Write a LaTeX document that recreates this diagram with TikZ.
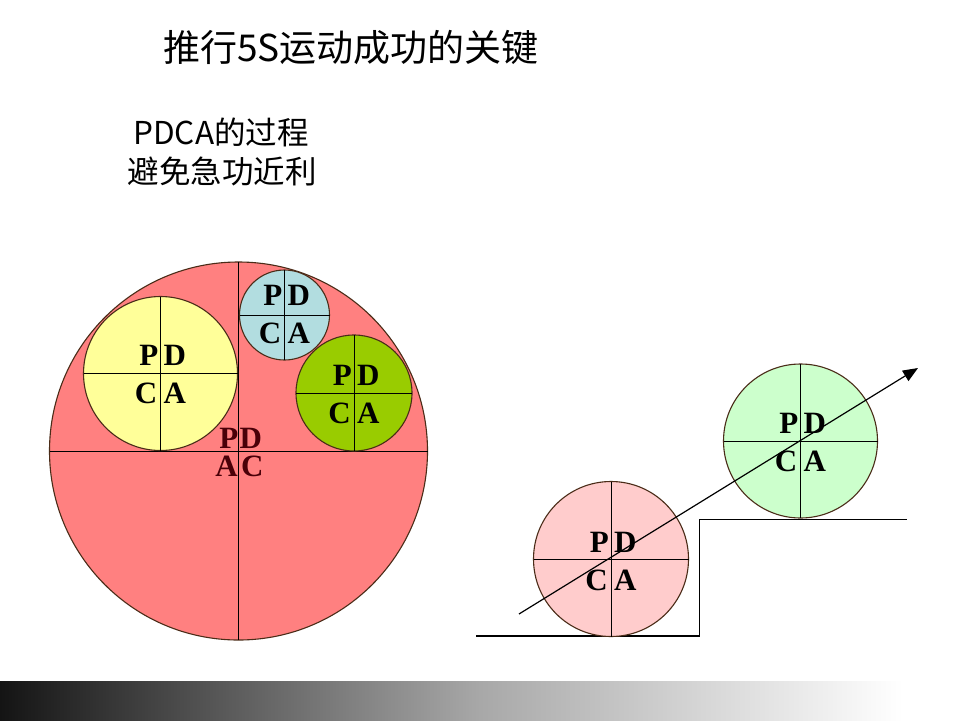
\documentclass[tikz,border=0pt]{standalone}
\usepackage{fontspec}
\setmainfont{Liberation Serif}
\newfontfamily\cjk{Noto Sans CJK SC}
\usetikzlibrary{arrows.meta}
\definecolor{bigred}{HTML}{FF8080}
\definecolor{yel}{HTML}{FFFF99}
\definecolor{blu}{HTML}{B2DDE0}
\definecolor{grn}{HTML}{99CC00}
\definecolor{pnk}{HTML}{FFCCCC}
\definecolor{lgr}{HTML}{CCFFCC}
\definecolor{rimc}{HTML}{4A2C18}
\definecolor{maroon}{HTML}{4A0008}
\definecolor{b0}{HTML}{141414}
\definecolor{b1}{HTML}{A8A8A8}
\pgfdeclarehorizontalshading{barshade}{100bp}{color(0bp)=(b0); color(25bp)=(b0); color(50bp)=(b1); color(72bp)=(white); color(100bp)=(white)}
\tikzset{
  qcirc/.style={circle, draw=rimc, line width=1.1pt, inner sep=0pt, outer sep=0pt},
  crossline/.style={draw=black, line width=0.9pt},
  lt/.style={inner sep=0pt, text height=20pt, text depth=0pt, font=\fontsize{31}{36}\selectfont\bfseries},
  ttl/.style={inner sep=0pt, font=\cjk\fontsize{37}{44}\selectfont},
  sub/.style={inner sep=0pt, font=\cjk\fontsize{31.5}{38}\selectfont},
}
\newcommand\quadcirc[5]{%
  \node[qcirc, fill=#5, minimum size={2*#4 pt}] (#1) at (#2,#3) {};
  \draw[crossline] (#1.north) -- (#1.south);
  \draw[crossline] (#1.west) -- (#1.east);
}
\newcommand\letts[7]{%
  \node[lt, anchor=base east] (#1-tl) at (#2-2,#3-8) {#4};
  \node[lt, anchor=base west] (#1-tr) at (#2+3,#3-8) {#5};
  \node[lt, anchor=base east] (#1-bl) at (#2-3,#3+30) {#6};
  \node[lt, anchor=base west] (#1-br) at (#2+3,#3+30) {#7};
}
\begin{document}
\begin{tikzpicture}[x=1pt,y=-1pt]
\useasboundingbox (0,0) rectangle (960,720);
\fill[white] (0,0) rectangle (960,720);
% bottom bar
\shade[shading=barshade] (0,681) rectangle (960,720);
% titles
\node[ttl] (title) at (351,47) {推行5S运动成功的关键};
\node[sub] (sub1) at (221,132) {PDCA的过程};
\node[sub] (sub2) at (222,171) {避免急功近利};
% big circle
\quadcirc{big}{238.5}{451}{189}{bigred}
\node[lt, text=maroon, anchor=base east] (big-tl) at (238.5,448) {P};
\node[lt, text=maroon, anchor=base west] (big-tr) at (239.5,448) {D};
\node[lt, text=maroon, anchor=base east] (big-bl) at (238,476) {A};
\node[lt, text=maroon, anchor=base west] (big-br) at (241,476) {C};
% inner circles
\quadcirc{yc}{160.5}{373.5}{77}{yel}
\letts{yc}{160.5}{373.5}{P}{D}{C}{A}
\quadcirc{bc}{284.5}{315}{45}{blu}
\letts{bc}{284.5}{313}{P}{D}{C}{A}
\quadcirc{gc}{354}{393}{58}{grn}
\letts{gc}{354}{393}{P}{D}{C}{A}
% steps
\coordinate (s0) at (476,636);
\coordinate (s1) at (699.3,636);
\coordinate (s2) at (699.3,519.3);
\coordinate (s3) at (907,519.3);
\draw[line width=1.4pt, line join=miter] (s0) -- (s1) -- (s2) -- (s3);
% right circles
\quadcirc{pc}{611}{559}{77.5}{pnk}
\letts{pc}{611}{560}{P}{D}{C}{A}
\quadcirc{lc}{800.5}{441}{77}{lgr}
\letts{lc}{800.5}{441}{P}{D}{C}{A}
% arrow
\coordinate (a0) at (519,614);
\coordinate (a1) at (918,368);
\draw[line width=1.2pt, -{Triangle[length=15pt,width=12pt]}] (a0) -- (a1);
\end{tikzpicture}
\end{document}
